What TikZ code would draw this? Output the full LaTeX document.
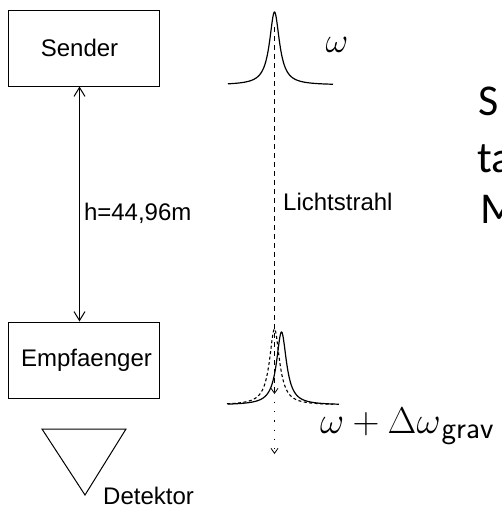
\documentclass[tikz,border=0pt]{standalone}
\usepackage{fontspec}
\usepackage{graphicx}
\setmainfont{Liberation Sans}
\newfontfamily\bigsans{Carlito}
\usetikzlibrary{arrows.meta}
\newcommand{\bigmath}[2]{\scalebox{#1}{\fontsize{24.88}{30}\selectfont$#2$}}
\begin{document}
\begin{tikzpicture}[x=1pt,y=-1pt,
  box/.style={draw, line width=1pt, minimum width=151pt, minimum height=76pt, inner sep=0pt, font=\fontsize{24}{28}\selectfont},
  lbl/.style={inner sep=0pt, font=\fontsize{24}{28}\selectfont},
  mathlbl/.style={inner sep=0pt},
  biglbl/.style={inner sep=0pt, anchor=base west, font=\bigsans\fontsize{44}{50}\selectfont},
  bigbarb/.tip={Straight Barb[length=9pt,width=11pt,line width=1pt]},
  smallbarb/.tip={Straight Barb[length=5pt,width=7pt,line width=0.8pt]},
  peak/.style={line width=1.2pt},
  beam/.style={line width=1pt, dash pattern=on 5pt off 4pt}
]
\useasboundingbox (0,0) rectangle (501,506);

% boxes
\node[box] (sender) at (83.5,48) {\hspace*{-8pt}Sender};
\node[box] (empf) at (83.5,360) {\hspace*{6pt}Empfaenger};
\draw[line width=1pt, {bigbarb}-{bigbarb}] ([xshift=-4pt]sender.south) -- ([xshift=-4pt]empf.north)
  node[lbl, pos=0.54, anchor=west, xshift=4pt] (h) {h=44,96m};

% detector
\coordinate (d1) at (42,429);
\coordinate (d2) at (126,429);
\coordinate (d3) at (85,495);
\draw[line width=1pt] (d1) -- (d2) -- (d3) -- cycle;
\node[lbl, anchor=base west] (det) at (103,504) {Detektor};

% top peak
\draw[peak] plot[domain=228:333, samples=300, smooth] (\x, {85 - 73*36/((\x-274.5)*(\x-274.5)+36)});
\node[mathlbl] (om) at (337,45) {\bigmath{1.41}{\omega}};

% light beam
\coordinate (beamtop) at (274.5,27);
\coordinate (beamend) at (274.5,394);
\coordinate (dotstart) at (274.5,402);
\coordinate (dotend) at (274.5,454);
\draw[beam, -{smallbarb}] (beamtop) -- (beamend);
\draw[line width=1.2pt, dash pattern=on 1.2pt off 8pt, -{smallbarb}] (dotstart) -- (dotend);
\node[lbl, anchor=base west] (licht) at (283,210) {Lichtstrahl};

% lower peaks
\draw[line width=1.1pt, dash pattern=on 3pt off 2.5pt] plot[domain=227:333, samples=300, smooth] (\x, {405 - 76*36/((\x-274.5)*(\x-274.5)+36)});
\draw[peak] plot[domain=228:339, samples=300, smooth] (\x, {405 - 73*36/((\x-281.5)*(\x-281.5)+36)});
\node[mathlbl, anchor=base west] (omg) at (320,433) {\bigmath{1.5}{\omega+\Delta\omega}\hspace{1pt}\raisebox{-5pt}{\fontsize{31}{36}\selectfont\sffamily grav}};

% clipped big text at right edge
\begin{scope}
\clip (0,0) rectangle (501,506);
\node[biglbl] (t1) at (478,115) {S};
\node[biglbl] (t2) at (477,172) {ta};
\node[biglbl] (t3) at (480,223) {M};
\end{scope}
\end{tikzpicture}
\end{document}
